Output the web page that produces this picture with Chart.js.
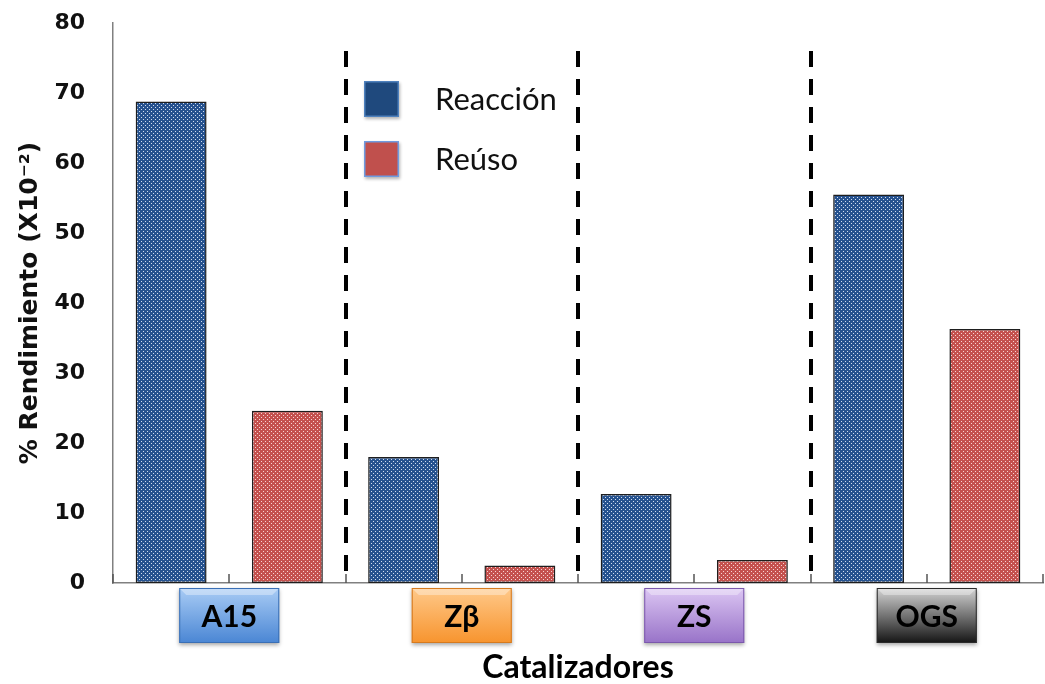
<!DOCTYPE html>
<html>
<head>
<meta charset="utf-8">
<script src="https://cdn.jsdelivr.net/npm/chart.js@4"></script>
<style>
  body { margin: 0; background: #fff; }
  canvas { display: block; }
</style>
</head>
<body>
<canvas id="myChart" width="1045" height="684"></canvas>
<script>
const categories = ["A15", "Zβ", "ZS", "OGS"];
const reaccion = [68.8, 18.0, 12.7, 55.5];
const reuso = [24.6, 2.5, 3.3, 36.3];
const seriesNames = ["Reacción", "Reúso"];
const yTicks = [0, 10, 20, 30, 40, 50, 60, 70, 80];

// colores de las etiquetas de cada catalizador (arriba, abajo, borde)
const boxColors = [
    ["#a9ccf5", "#4a86d4", "#3a6fb5"],
    ["#ffc98a", "#f7942e", "#d67a1e"],
    ["#dcc6f3", "#9873c8", "#7b58ac"],
    ["#d4d4d4", "#151515", "#2a2a2a"]
];

// relleno punteado de las barras
function dotPattern(base, dot) {
    const c = document.createElement("canvas");
    c.width = 4;
    c.height = 4;
    const g = c.getContext("2d");
    g.fillStyle = base;
    g.fillRect(0, 0, 4, 4);
    g.fillStyle = dot;
    g.fillRect(1, 1, 1, 1);
    g.fillRect(3, 3, 1, 1);
    return g.createPattern(c, "repeat");
}

const canvas = document.getElementById("myChart");
const ctx = canvas.getContext("2d");

const bluePattern = dotPattern("#26528f", "#d2def0");
const redPattern = dotPattern("#c4514e", "#f7d4d3");
const legendFill = ["#1f497d", "#c0504d"];
const legendBorder = ["#4f81bd", "#6f9be0"];

// cajas de color bajo los nombres de categoría
const labelBoxes = {
    id: "labelBoxes",
    beforeDraw(chart) {
        const x = chart.scales.x;
        const c = chart.ctx;
        categories.forEach((cat, i) => {
            const cx = x.getPixelForValue(i);
            const w = 100, h = 55, top = 588;
            const left = cx - w / 2;
            c.save();
            c.shadowColor = "rgba(0,0,0,0.35)";
            c.shadowBlur = 4;
            c.shadowOffsetY = 2;
            const grad = c.createLinearGradient(0, top, 0, top + h);
            grad.addColorStop(0, boxColors[i][0]);
            grad.addColorStop(1, boxColors[i][1]);
            c.fillStyle = grad;
            c.fillRect(left, top, w, h);
            c.restore();
            c.save();
            c.strokeStyle = boxColors[i][2];
            c.lineWidth = 1;
            c.strokeRect(left + 0.5, top + 0.5, w - 1, h - 1);
            // biselado superior
            c.fillStyle = "rgba(255,255,255,0.35)";
            c.beginPath();
            c.moveTo(left + 1, top + 1);
            c.lineTo(left + w - 1, top + 1);
            c.lineTo(left + w - 7, top + 7);
            c.lineTo(left + 7, top + 7);
            c.closePath();
            c.fill();
            c.restore();
        });
    }
};

// separadores discontinuos y marcas del eje x
const separators = {
    id: "separators",
    afterDatasetsDraw(chart) {
        const x = chart.scales.x;
        const area = chart.chartArea;
        const c = chart.ctx;
        const step = x.getPixelForValue(1) - x.getPixelForValue(0);
        c.save();
        c.strokeStyle = "#000";
        c.lineWidth = 4;
        c.setLineDash([16, 12]);
        for (let i = 1; i < categories.length; i++) {
            const px = Math.round(x.getPixelForValue(i) - step / 2);
            c.beginPath();
            c.moveTo(px, 51);
            c.lineTo(px, area.bottom);
            c.stroke();
        }
        c.setLineDash([]);
        c.strokeStyle = "#555";
        c.lineWidth = 1.5;
        for (let i = 0; i <= categories.length * 2; i++) {
            const px = Math.round(x.getPixelForValue(0) - step / 2 + i * step / 2);
            c.beginPath();
            c.moveTo(px, area.bottom);
            c.lineTo(px, area.bottom - 9);
            c.stroke();
        }
        c.restore();
    }
};

// leyenda dentro del área del gráfico
const innerLegend = {
    id: "innerLegend",
    afterDraw(chart) {
        const area = chart.chartArea;
        const c = chart.ctx;
        chart.data.datasets.forEach((ds, i) => {
            const mx = area.left + 251;
            const my = area.top + 58 + i * 60;
            c.save();
            c.shadowColor = "rgba(0,0,0,0.3)";
            c.shadowBlur = 3;
            c.shadowOffsetX = 1;
            c.shadowOffsetY = 2;
            c.fillStyle = legendFill[i];
            c.fillRect(mx, my, 35, 36);
            c.restore();
            c.save();
            c.strokeStyle = legendBorder[i];
            c.lineWidth = 1.5;
            c.strokeRect(mx + 0.75, my + 0.75, 33.5, 34.5);
            c.fillStyle = "#111";
            c.font = "31px Lato";
            c.textBaseline = "middle";
            c.fillText(ds.label, mx + 71, my + 19);
            c.restore();
        });
    }
};

new Chart(ctx, {
    type: "bar",
    data: {
        labels: categories,
        datasets: [
            {
                label: seriesNames[0],
                data: reaccion,
                backgroundColor: bluePattern,
                borderColor: "#1e1e1e",
                borderWidth: 1.5,
                borderSkipped: false
            },
            {
                label: seriesNames[1],
                data: reuso,
                backgroundColor: redPattern,
                borderColor: "#1e1e1e",
                borderWidth: 1.5,
                borderSkipped: false
            }
        ]
    },
    options: {
        responsive: false,
        animation: false,
        devicePixelRatio: 1,
        categoryPercentage: 1,
        barPercentage: 0.61,
        layout: {
            padding: { left: 3, right: 2, top: 23, bottom: 0 }
        },
        plugins: {
            legend: { display: false },
            tooltip: { enabled: false }
        },
        scales: {
            x: {
                afterFit(scale) {
                    scale.height = 101;
                    scale.paddingLeft = 0;
                    scale.paddingRight = 0;
                },
                grid: { display: false, drawTicks: false },
                border: { display: true, color: "#808080", width: 1.5 },
                ticks: {
                    color: "#000",
                    padding: 16,
                    font: { family: "Lato", weight: "bold", size: 30 }
                },
                title: {
                    display: true,
                    text: "Catalizadores",
                    color: "#000",
                    font: { family: "Lato", weight: "bold", size: 32 },
                    padding: { top: 0, bottom: -3 }
                }
            },
            y: {
                min: 0,
                max: 80,
                afterBuildTicks(scale) {
                    scale.ticks = yTicks.map(v => ({ value: v }));
                },
                afterFit(scale) {
                    scale.width = 110;
                    scale.paddingTop = 0;
                    scale.paddingBottom = 0;
                },
                grid: { display: false, drawTicks: false },
                border: { display: true, color: "#808080", width: 1.5 },
                ticks: {
                    color: "#111",
                    padding: 28,
                    font: { family: "DejaVu Sans", weight: "bold", size: 22 }
                },
                title: {
                    display: true,
                    text: "% Rendimiento (X10⁻²)",
                    color: "#111",
                    font: { family: "DejaVu Sans", weight: "bold", size: 25 },
                    padding: 12
                }
            }
        }
    },
    plugins: [labelBoxes, separators, innerLegend]
});
</script>
</body>
</html>
